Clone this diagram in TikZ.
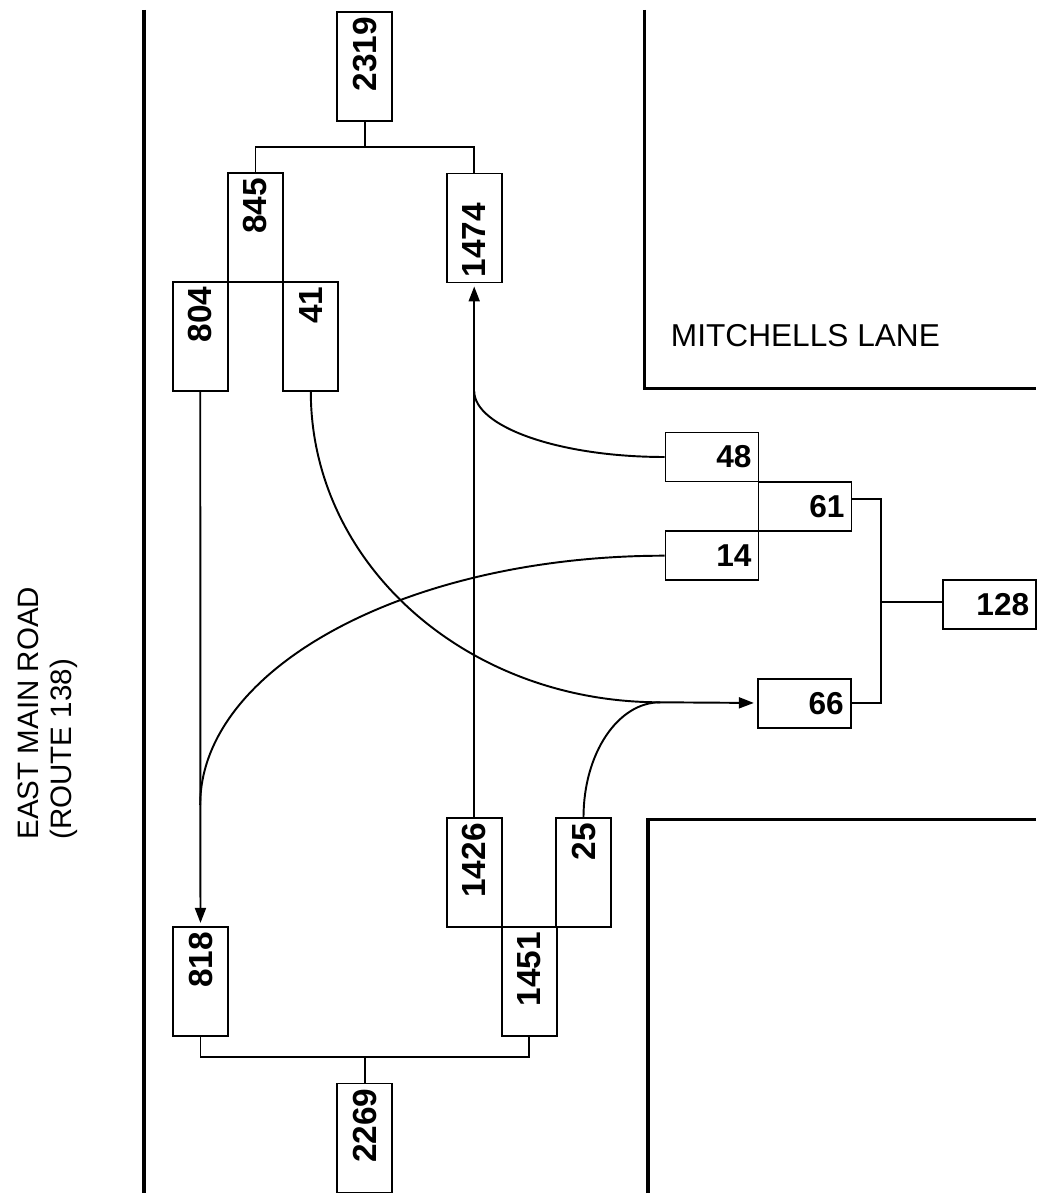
\documentclass[tikz,border=0pt]{standalone}
\usepackage{fontspec}
\setmainfont{Liberation Sans}
\setsansfont{Liberation Sans}
\usetikzlibrary{arrows.meta}

\tikzset{
  vcount/.style={draw, rotate=90, minimum height=0.55cm, text width=0.99cm,
    inner xsep=0.05cm, inner ysep=0pt, align=right,
    font=\fontsize{9.5}{11}\selectfont\sffamily\bfseries},
  hcount/.style={draw, minimum height=0.49cm, text width=0.79cm,
    inner xsep=0.07cm, inner ysep=0pt, align=right,
    font=\fontsize{9}{11}\selectfont\sffamily\bfseries},
  flow/.style={-{Triangle[length=1.5mm,width=1.1mm]}, shorten >=0.3mm},
  road/.style={line width=1pt},
  street/.style={font=\fontsize{9}{9.5}\selectfont, inner sep=0pt}
}

\begin{document}
\begin{tikzpicture}[line width=0.55pt]
  \useasboundingbox (0,0) rectangle (10.42,-11.96);

  % road edges
  \draw[road] (1.44,-0.10) -- (1.44,-11.93);
  \draw[road] (6.445,-0.10) -- (6.445,-3.885) -- (10.36,-3.885);
  \draw[road] (6.48,-11.93) -- (6.48,-8.195) -- (10.36,-8.195);

  \node[street, font=\fontsize{8.4}{9.5}\selectfont, rotate=90, anchor=south west, align=left] (eastmain) at (0.79,-8.405)
    {EAST MAIN ROAD\\(ROUTE 138)};
  \node[street, anchor=base west] (mitchells) at (6.70,-3.47) {MITCHELLS LANE};

  % north leg (rotated boxes: west = bottom, east = top)
  \node[vcount] (n2319) at (3.648,-0.667) {2319};
  \node[vcount] (n845) at (2.555,-2.275) {845};
  \node[vcount, align=left] (n1474) at (4.742,-2.28) {1474};
  \node[vcount] (n804) at (2.002,-3.362) {804};
  \node[vcount] (n41) at (3.108,-3.362) {41};

  % south leg
  \node[vcount] (n1426) at (4.742,-8.728) {1426};
  \node[vcount] (n25) at (5.835,-8.728) {25};
  \node[vcount] (n1451) at (5.292,-9.817) {1451};
  \node[vcount] (n818) at (2.005,-9.814) {818};
  \node[vcount] (n2269) at (3.648,-11.38) {2269};

  % Mitchells Lane
  \node[hcount] (n48) at (7.12,-4.57) {48};
  \node[hcount] (n61) at (8.05,-5.062) {61};
  \node[hcount] (n14) at (7.12,-5.557) {14};
  \node[hcount] (n128) at (9.897,-6.047) {128};
  \node[hcount] (n66) at (8.043,-7.033) {66};

  \coordinate (j66) at (6.60,-7.023);
  \coordinate (j48) at (4.742,-3.91);
  \coordinate (j14) at (2.002,-8.05);
  \coordinate (b128) at (8.81,-6.017);

  % sums
  \draw (n2319.west) -- ++(0,-0.25) coordinate (t2319) -| (n845.east);
  \draw (t2319) -| (n1474.east);
  \draw (n2269.east) -- ++(0,0.26) coordinate (b2269);
  \draw (n818.west) |- (b2269) -| (n1451.west);
  \draw ([yshift=0.07cm]n61.east) -| (b128) |- (n66.east);
  \draw (b128) -- (b128 -| n128.west);

  % turning movements
  \draw[flow] (n804) -- (n818);
  \draw[flow] (n1426) -- (n1474);
  \draw (n41.west) .. controls +(0,-1.72) and +(-1.94,0) .. (j66);
  \draw (n25.east) .. controls +(0,0.64) and +(-0.42,0) .. (j66);
  \draw[flow] (j66) -- (n66);
  \draw (n48.west) .. controls +(-1.05,0) and +(0,-0.36) .. (j48);
  \draw (n14.west) .. controls +(-2.57,0) and +(0,1.37) .. (j14);
\end{tikzpicture}
\end{document}
